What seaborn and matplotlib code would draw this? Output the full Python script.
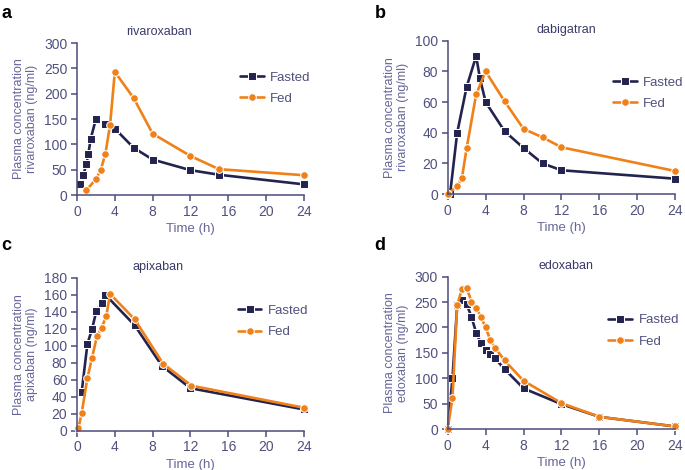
import pandas as pd
import seaborn as sns
import matplotlib.pyplot as plt

# rivaroxaban
riv_t_fasted = [0.33, 0.67, 1, 1.2, 1.45, 2, 3, 4, 6, 8, 12, 15, 24]
riv_c_fasted = [21, 40, 61, 81, 111, 150, 141, 131, 93, 70, 49, 40, 21]
riv_t_fed = [1, 2, 2.5, 3, 3.5, 4, 6, 8, 12, 15, 24]
riv_c_fed = [10, 31, 49, 81, 139, 243, 191, 121, 77, 51, 39]

# dabigatran
dab_t_fasted = [0.25, 1, 2, 3, 3.4, 4, 6, 8, 10, 12, 24]
dab_c_fasted = [0, 40, 70, 90, 75.5, 60, 41, 30, 20, 15.5, 10]
dab_t_fed = [0, 1, 1.5, 2, 3, 4, 6, 8, 10, 12, 24]
dab_c_fed = [0, 5, 10.5, 30, 65, 80, 60.5, 42.5, 37, 30.5, 15]

# apixaban
api_t_fasted = [0.5, 1.1, 1.6, 2.05, 2.6, 3, 6.1, 9, 12, 24]
api_c_fasted = [46, 102, 120, 141, 150, 160, 124, 76, 50, 25]
api_t_fed = [0.15, 0.5, 1.1, 1.6, 2.1, 2.6, 3.1, 3.5, 6.1, 9.1, 12.1, 24]
api_c_fed = [3, 21, 62, 86, 111, 121, 135, 161, 131, 79, 53, 27]

# edoxaban
edo_t_fasted = [0, 0.5, 1, 1.5, 2, 2.5, 3, 3.5, 4, 4.5, 5, 6, 8, 12, 16, 24]
edo_c_fasted = [0, 100, 244, 254, 246, 221, 190, 169, 155, 147, 139, 118, 80, 49, 24, 5]
edo_t_fed = [0, 0.5, 1, 1.5, 2, 2.5, 3, 3.5, 4, 4.5, 5, 6, 8, 12, 16, 24]
edo_c_fed = [1, 61, 244, 276, 278, 251, 239, 221, 200, 175, 160, 135, 95, 51, 24, 5]

x_ticks = [0, 4, 8, 12, 16, 20, 24]

sns.set_theme(style="ticks")
plt.rcParams["font.family"] = ["Liberation Sans", "DejaVu Sans"]

navy = "#23234f"
orange = "#f08119"
axis_col = "#4c4c7e"
tick_col = "#50507f"
label_col = "#66669a"

panels = [
    # letter, drug, ylabel drug, data, ymax, ystep, rect, legend anchor, title x
    ("a", "rivaroxaban", "rivaroxaban",
     (riv_t_fasted, riv_c_fasted, riv_t_fed, riv_c_fed), 300, 50,
     [0.1124, 0.5851, 0.3314, 0.3234], (0.718, 0.814), 0.36),
    ("b", "dabigatran", "rivaroxaban",
     (dab_t_fasted, dab_c_fasted, dab_t_fed, dab_c_fed), 100, 20,
     [0.6536, 0.5872, 0.3321, 0.3260], (0.726, 0.768), 0.52),
    ("c", "apixaban", "apixaban",
     (api_t_fasted, api_c_fasted, api_t_fed, api_c_fed), 180, 20,
     [0.1124, 0.0836, 0.3314, 0.3255], (0.708, 0.824), 0.355),
    ("d", "edoxaban", "edoxaban",
     (edo_t_fasted, edo_c_fasted, edo_t_fed, edo_c_fed), 300, 50,
     [0.6536, 0.0872, 0.3321, 0.3240], (0.706, 0.754), 0.52),
]

fig = plt.figure(figsize=(6.85, 4.70), dpi=100)

for letter, drug, ydrug, (tf, cf, tfe, cfe), ymax, ystep, rect, anchor, tx in panels:
    ax = fig.add_axes(rect)
    df = pd.concat([
        pd.DataFrame({"Time": tf, "Conc": cf, "Condition": "Fasted"}),
        pd.DataFrame({"Time": tfe, "Conc": cfe, "Condition": "Fed"}),
    ], ignore_index=True)
    sns.lineplot(data=df, x="Time", y="Conc", hue="Condition", style="Condition",
                 markers={"Fasted": "s", "Fed": "o"}, dashes=False,
                 palette={"Fasted": navy, "Fed": orange}, sort=False,
                 estimator=None, ax=ax, linewidth=1.9, markersize=5.5,
                 clip_on=False)

    ax.set_xlim(0, 24)
    ax.set_ylim(0, ymax)
    ax.set_xticks(x_ticks)
    ax.set_yticks(range(0, ymax + 1, ystep))
    sns.despine(ax=ax)
    for s in ["left", "bottom"]:
        ax.spines[s].set_color(axis_col)
        ax.spines[s].set_linewidth(1.1)
    ax.tick_params(direction="out", length=4, width=1.1, color=axis_col,
                   labelcolor=tick_col, labelsize=10, pad=3)

    ax.set_xlabel("Time (h)", fontsize=9.5, color=label_col, labelpad=3)
    ax.set_ylabel("Plasma concentration\n" + ydrug + " (ng/ml)",
                  fontsize=9, color=label_col, linespacing=1.1)
    ax.yaxis.set_label_coords(-0.172, 0.5)

    ax.text(tx, 1.07, drug, transform=ax.transAxes, ha="center", va="center",
            fontsize=9, color="#3a3a6a")

    handles, labels = ax.get_legend_handles_labels()
    ax.legend(handles, labels, loc="upper left", bbox_to_anchor=anchor,
              frameon=False, fontsize=9.5, labelcolor=tick_col,
              handlelength=1.8, handletextpad=0.5, labelspacing=0.7,
              borderpad=0, borderaxespad=0)

    fx = 0.0 if letter in "ac" else 0.545
    fy = 0.972 if letter in "ab" else 0.478
    fig.text(fx + 0.002, fy, letter, fontsize=13, fontweight="bold",
             color="black", ha="left", va="center")

fig.savefig("out.png", dpi=100)
